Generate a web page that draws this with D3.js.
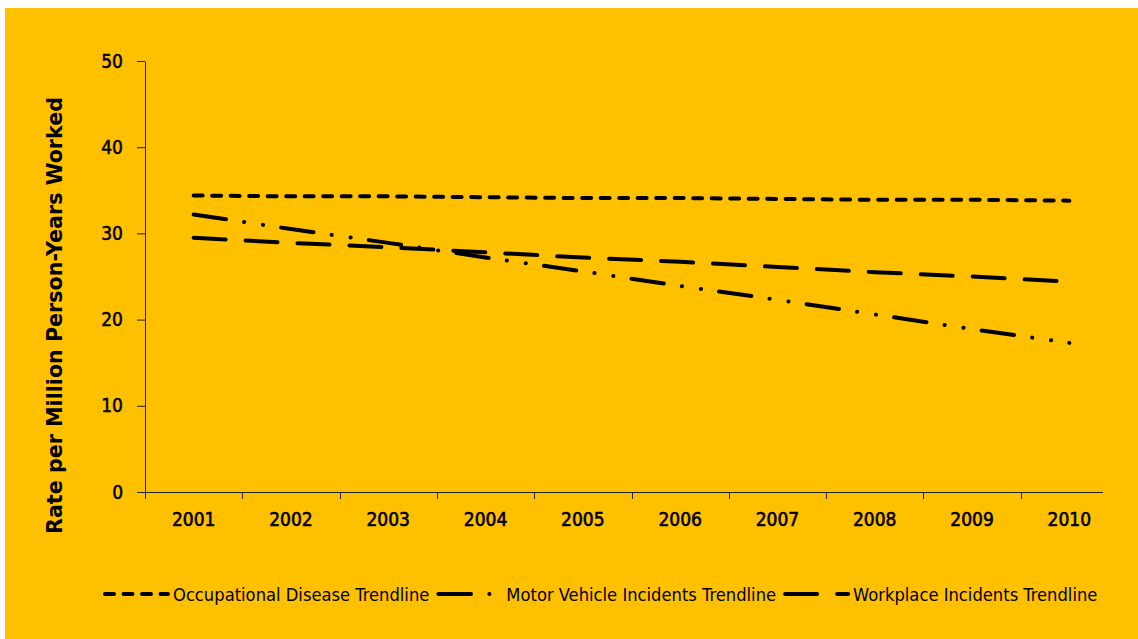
<!DOCTYPE html>
<html>
<head>
<meta charset="utf-8">
<script src="https://cdn.jsdelivr.net/npm/d3@7"></script>
<style>
  html, body { margin: 0; padding: 0; background: #fff; }
  svg { display: block; }
  .cond { font-family: 'DejaVu Sans Condensed', 'DejaVu Sans', sans-serif; font-stretch: condensed; }
</style>
</head>
<body>
<svg id="chart"></svg>
<script>
// data
const years = ['2001', '2002', '2003', '2004', '2005', '2006', '2007', '2008', '2009', '2010'];
const occupationalDisease = [34.4, 34.3, 34.3, 34.2, 34.1, 34.1, 34.0, 33.9, 33.9, 33.8];
const motorVehicle = [32.2, 30.5, 28.9, 27.2, 25.6, 23.9, 22.3, 20.6, 18.9, 17.3];
const workplace = [29.5, 28.9, 28.4, 27.8, 27.2, 26.7, 26.1, 25.5, 25.0, 24.4];
const yTicks = [0, 10, 20, 30, 40, 50];
const seriesNames = ['Occupational Disease Trendline', 'Motor Vehicle Incidents Trendline', 'Workplace Incidents Trendline'];
const yTitle = 'Rate per Million Person-Years Worked';

const width = 1138, height = 639;
const margin = {top: 61, left: 145, bottom: 492, right: 1118};
const axisEnd = 1103;

const series = [
  {name: seriesNames[0], values: occupationalDisease, dash: '9,9.5'},
  {name: seriesNames[1], values: motorVehicle, dash: '32.7,18.3,0.1,19,0.1,18.3'},
  {name: seriesNames[2], values: workplace, dash: '32,20'}
];

const svg = d3.select('#chart')
  .attr('width', width)
  .attr('height', height);

// orange panel
svg.append('rect')
  .attr('x', 5).attr('y', 8)
  .attr('width', width - 5).attr('height', height - 8)
  .attr('fill', '#FFC000');

const x = d3.scaleBand()
  .domain(years)
  .range([margin.left, margin.right])
  .padding(0);

const y = d3.scaleLinear()
  .domain([0, 50])
  .range([margin.bottom, margin.top]);

// Y axis
const yAxis = svg.append('g')
  .attr('transform', `translate(${margin.left},0)`)
  .call(d3.axisLeft(y).tickValues(yTicks).tickSize(8).tickSizeOuter(0).tickPadding(14));
yAxis.selectAll('text')
  .attr('class', 'cond')
  .style('font-size', '19px')
  .attr('fill', '#000')
  .attr('stroke', '#000')
  .attr('stroke-width', 0.5);
yAxis.selectAll('line, path').attr('stroke', '#222');

// X axis, ticks at category boundaries
const xAxis = svg.append('g')
  .attr('transform', `translate(0,${margin.bottom})`)
  .call(d3.axisBottom(x).tickSize(0).tickPadding(21));
xAxis.select('.domain')
  .attr('d', `M${margin.left},0.5H${axisEnd}`)
  .attr('stroke', '#222');
xAxis.selectAll('text')
  .attr('class', 'cond')
  .style('font-size', '19px')
  .attr('fill', '#000')
  .attr('stroke', '#000')
  .attr('stroke-width', 0.6);
xAxis.selectAll('.bound')
  .data(years)
  .join('line')
  .attr('class', 'bound')
  .attr('x1', d => Math.round(x(d)) + 0.5)
  .attr('x2', d => Math.round(x(d)) + 0.5)
  .attr('y1', 0)
  .attr('y2', 7)
  .attr('stroke', '#222');

// Y title
svg.append('text')
  .attr('transform', `translate(61.5,${(97 + 534) / 2}) rotate(-90)`)
  .attr('text-anchor', 'middle')
  .attr('font-family', 'DejaVu Sans, sans-serif')
  .attr('font-weight', 'bold')
  .attr('font-size', 21)
  .attr('textLength', 437)
  .attr('lengthAdjust', 'spacingAndGlyphs')
  .text(yTitle);

// trend lines
const line = d3.line()
  .x((d, i) => x(years[i]) + x.bandwidth() / 2)
  .y(d => y(d));

svg.append('g')
  .selectAll('path')
  .data(series)
  .join('path')
  .attr('d', d => line(d.values))
  .attr('fill', 'none')
  .attr('stroke', '#000')
  .attr('stroke-width', 4)
  .attr('stroke-linecap', 'round')
  .attr('stroke-dasharray', d => d.dash);

// legend
const legend = svg.append('g').attr('transform', 'translate(0,594)');
let lx = 103;
series.forEach(s => {
  const item = legend.append('g').attr('transform', `translate(${lx},0)`);
  item.append('line')
    .attr('x1', 2).attr('x2', 65)
    .attr('stroke', '#000')
    .attr('stroke-width', 4)
    .attr('stroke-linecap', 'round')
    .attr('stroke-dasharray', s.dash);
  const t = item.append('text')
    .attr('class', 'cond')
    .attr('x', 70)
    .attr('y', 7)
    .style('font-size', '18.2px')
    .attr('fill', '#000')
    .text(s.name);
  lx += 70 + t.node().getComputedTextLength() + 7;
});
</script>
</body>
</html>
